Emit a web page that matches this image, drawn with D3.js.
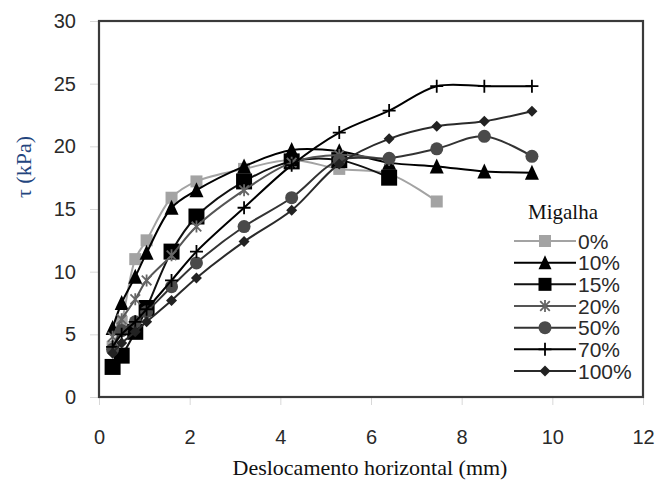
<!DOCTYPE html>
<html>
<head>
<meta charset="utf-8">
<script src="https://cdn.jsdelivr.net/npm/d3@7"></script>
<style>
  html, body { margin: 0; padding: 0; background: #fff; }
  svg { display: block; }
</style>
</head>
<body>
<svg id="chart" width="660" height="486"></svg>
<script>
// Horizontal displacement (mm) at each reading
const displacement = [0.3, 0.5, 0.8, 1.05, 1.6, 2.15, 3.2, 4.25, 5.3, 6.4, 7.45, 8.5, 9.55];

// Shear stress tau (kPa) for each crumb-rubber content
const tau0   = [4.0, 6.0, 11.0, 12.5, 15.9, 17.2, 18.2, 18.9, 18.2, 17.8, 15.6, null, null];
const tau10  = [5.5, 7.5, 9.6, 11.5, 15.1, 16.5, 18.4, 19.7, 19.6, 18.7, 18.4, 18.0, 17.9];
const tau15  = [2.4, 3.3, 5.2, 7.1, 11.6, 14.4, 17.2, 18.8, 18.9, 17.5, null, null, null];
const tau20  = [4.8, 6.2, 7.8, 9.3, 11.3, 13.6, 16.5, 18.7, 19.3, 18.9, null, null, null];
const tau50  = [3.8, 5.3, 6.0, 6.8, 8.8, 10.7, 13.6, 15.9, 18.9, 19.05, 19.8, 20.8, 19.2];
const tau70  = [4.0, 5.0, 6.0, 7.0, 9.3, 11.6, 15.1, 18.5, 21.1, 22.85, 24.8, 24.8, 24.8];
const tau100 = [3.5, 4.3, 5.2, 6.0, 7.7, 9.5, 12.4, 14.9, 18.6, 20.6, 21.6, 22.0, 22.8];

const seriesNames = ["0%", "10%", "15%", "20%", "50%", "70%", "100%"];
const seriesValues = [tau0, tau10, tau15, tau20, tau50, tau70, tau100];

const xTicks = [0, 2, 4, 6, 8, 10, 12];
const yTicks = [0, 5, 10, 15, 20, 25, 30];

// Look of each series: marker shape, marker fill, line colour
const styles = [
  { shape: "square",   size: 12, fill: "#a3a3a3", line: "#a3a3a3" },
  { shape: "triangle", size: 14, fill: "#000",    line: "#000" },
  { shape: "square",   size: 16, fill: "#000",    line: "#111" },
  { shape: "asterisk", size: 12, fill: "#666",    line: "#555" },
  { shape: "circle",   size: 13, fill: "#4a4a4a", line: "#333" },
  { shape: "plus",     size: 13, fill: "#000",    line: "#000" },
  { shape: "diamond",  size: 11, fill: "#222",    line: "#2a2a2a" }
];

const svg = d3.select("#chart");
const margin = { left: 99, right: 17, top: 21, bottom: 89 };
const W = 660, H = 486;

const x = d3.scaleLinear().domain([0, 12]).range([margin.left, W - margin.right]);
const y = d3.scaleLinear().domain([0, 30]).range([H - margin.bottom, margin.top]);

svg.append("rect").attr("width", W).attr("height", H).attr("fill", "#fff");

// Axes with faint outside ticks
const xAxis = svg.append("g")
  .attr("transform", `translate(0,${y(0)})`)
  .call(d3.axisBottom(x).tickValues(xTicks).tickSize(8).tickPadding(25).tickFormat(d3.format("d")));
const yAxis = svg.append("g")
  .attr("transform", `translate(${x(0)},0)`)
  .call(d3.axisLeft(y).tickValues(yTicks).tickSize(9).tickPadding(14).tickFormat(d3.format("d")));
[xAxis, yAxis].forEach(g => {
  g.select(".domain").remove();
  g.selectAll(".tick line").attr("stroke", "#d8d8d8").attr("stroke-width", 1);
  g.selectAll(".tick text")
    .attr("fill", "#2a2a2a")
    .style("font-family", "'Liberation Sans', Arial, sans-serif")
    .style("font-size", "20px");
});

// Plot frame
svg.append("rect")
  .attr("x", x(0)).attr("y", y(30))
  .attr("width", x(12) - x(0)).attr("height", y(0) - y(30))
  .attr("fill", "none").attr("stroke", "#3a3a3a").attr("stroke-width", 2.2);

// Marker drawing
function marker(g, shape, size, fill) {
  const h = size / 2;
  if (shape === "square") {
    g.append("rect").attr("x", -h).attr("y", -h).attr("width", size).attr("height", size).attr("fill", fill);
  } else if (shape === "triangle") {
    g.append("path").attr("d", `M0,${-h - 1}L${h},${h}L${-h},${h}Z`).attr("fill", fill);
  } else if (shape === "circle") {
    g.append("circle").attr("r", h).attr("fill", fill);
  } else if (shape === "diamond") {
    g.append("path").attr("d", `M0,${-h}L${h},0L0,${h}L${-h},0Z`).attr("fill", fill);
  } else if (shape === "plus") {
    g.append("path").attr("d", `M0,${-h}V${h}M${-h},0H${h}`).attr("stroke", fill).attr("stroke-width", 1.8);
  } else if (shape === "asterisk") {
    const d = h * 0.8;
    g.append("path")
      .attr("d", `M${-d},${-d}L${d},${d}M${-d},${d}L${d},${-d}M0,${-h}V${h}`)
      .attr("stroke", fill).attr("stroke-width", 1.8);
  }
}

const line = d3.line()
  .defined(d => d[1] != null)
  .x(d => x(d[0])).y(d => y(d[1]))
  .curve(d3.curveCatmullRom);

const plot = svg.append("g");
seriesValues.forEach((vals, i) => {
  const st = styles[i];
  const pts = displacement.map((d, j) => [d, vals[j]]).filter(p => p[1] != null);
  const g = plot.append("g");
  g.append("path").datum(pts).attr("d", line)
    .attr("fill", "none").attr("stroke", st.line).attr("stroke-width", 2);
  pts.forEach(p => {
    const m = g.append("g").attr("transform", `translate(${x(p[0])},${y(p[1])})`);
    marker(m, st.shape, st.size, st.fill);
  });
});

// Axis titles
svg.append("text")
  .attr("x", 370).attr("y", 475)
  .attr("text-anchor", "middle")
  .attr("fill", "#111")
  .style("font-family", "'Liberation Serif', 'Times New Roman', serif")
  .style("font-size", "22px")
  .text("Deslocamento horizontal (mm)");

svg.append("text")
  .attr("transform", "translate(31,167) rotate(-90)")
  .attr("text-anchor", "middle")
  .attr("fill", "#23457e")
  .style("font-family", "'Liberation Serif', 'Times New Roman', serif")
  .style("font-size", "22px")
  .text("τ (kPa)");

// Legend
const legend = svg.append("g");
legend.append("text")
  .attr("x", 563).attr("y", 219)
  .attr("text-anchor", "middle")
  .attr("fill", "#111")
  .style("font-family", "'Liberation Serif', 'Times New Roman', serif")
  .style("font-size", "21px")
  .text("Migalha");

const legendY = d3.scalePoint().domain(seriesNames).range([241, 371]);
seriesNames.forEach((name, i) => {
  const st = styles[i];
  const yy = legendY(name);
  const row = legend.append("g");
  row.append("line").attr("x1", 514).attr("x2", 576).attr("y1", yy).attr("y2", yy)
    .attr("stroke", st.line).attr("stroke-width", 2);
  const m = row.append("g").attr("transform", `translate(545,${yy})`);
  marker(m, st.shape, Math.min(st.size, 13), st.fill);
  row.append("text")
    .attr("x", 578).attr("y", yy + 7.5)
    .attr("fill", "#2a2a2a")
    .style("font-family", "'Liberation Sans', Arial, sans-serif")
    .style("font-size", "21px")
    .text(name);
});
</script>
</body>
</html>
